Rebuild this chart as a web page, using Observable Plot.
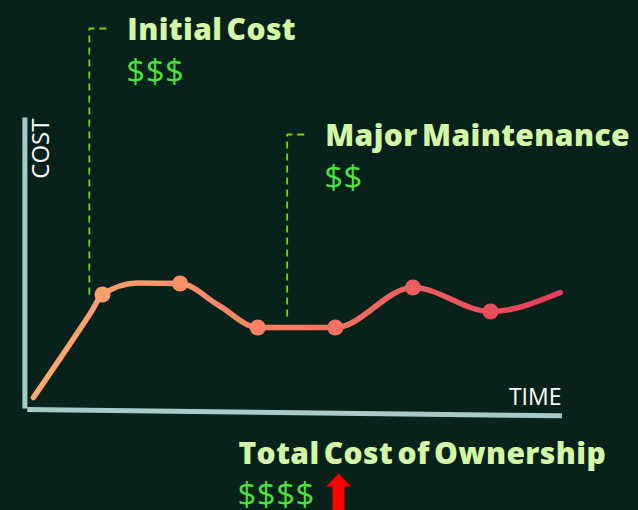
<!DOCTYPE html>
<html><head><meta charset="utf-8">
<script src="https://cdn.jsdelivr.net/npm/d3@7"></script>
<script src="https://cdn.jsdelivr.net/npm/@observablehq/plot@0.6"></script>
<style>
html,body{margin:0;padding:0;background:#08211a;}
#chart svg{display:block;background:#08211a;}
</style></head><body><div id="chart"></div>
<script>
// ---- data ----
const curveTime = [0.11, 0.85, 1, 1.45, 2, 2.5, 3, 4, 5, 6, 6.9];
const curveCost = [1.1, 9.6, 11.4, 12.55, 12.5, 10.3, 8.1, 8.1, 12.1, 9.7, 11.6];
const milestoneTime = [1, 2, 3, 4, 5, 6];
const milestoneCost = [11.4, 12.5, 8.1, 8.1, 12.1, 9.7];
const eventLabels = ["Initial Cost", "Major Maintenance"];
const eventAmounts = ["$$$", "$$"];
const eventTime = [0.83, 3.38];
const eventTop = [38, 27.4];
const eventBase = [11.1, 9.1];
const totalLabel = "Total Cost of Ownership";
const totalAmount = "$$$$";
const xAxisLabel = "TIME";
const yAxisLabel = "COST";
const axisTimeEnd = 6.92;
const axisCostEnd = 29.1;

// ---- derived tables ----
const curve = curveTime.map((t, i) => ({t, c: curveCost[i]}));
const milestones = milestoneTime.map((t, i) => ({t, c: milestoneCost[i]}));
const events = eventLabels.map((label, i) => ({label, amount: eventAmounts[i], t: eventTime[i], top: eventTop[i], base: eventBase[i]}));
const eventPaths = events.flatMap((e, i) => [
  {id: i, t: e.t + 0.22, c: e.top},
  {id: i, t: e.t, c: e.top},
  {id: i, t: e.t, c: e.base}
]);
const yAxisLine = [{t: 0, c: 0}, {t: 0, c: axisCostEnd}];
const xAxisLine = [{t: 0.03, c: -0.1}, {t: axisTimeEnd, c: -0.73}];

const gradStops = ["#fbac70", "#f37b62", "#e63a5a"];
const axisColor = "#a7cbc9";
const dashColor = "#76d21d";
const titleColor = "#d4f7a6";
const amountColor = "#4de23c";

const gradientDefs = (index, scales) => {
  const ns = "http://www.w3.org/2000/svg";
  const defs = document.createElementNS(ns, "defs");
  const g = document.createElementNS(ns, "linearGradient");
  g.setAttribute("id", "costGradient");
  g.setAttribute("gradientUnits", "userSpaceOnUse");
  g.setAttribute("x1", scales.x(0));
  g.setAttribute("x2", scales.x(7));
  g.setAttribute("y1", 0);
  g.setAttribute("y2", 0);
  gradStops.forEach((col, i) => {
    const s = document.createElementNS(ns, "stop");
    s.setAttribute("offset", i / (gradStops.length - 1));
    s.setAttribute("stop-color", col);
    g.appendChild(s);
  });
  defs.appendChild(g);
  return defs;
};

const arrowSymbol = {
  draw(ctx) {
    ctx.moveTo(0, -19);
    ctx.lineTo(12.5, -6);
    ctx.lineTo(6, -6);
    ctx.lineTo(6, 20);
    ctx.lineTo(-6, 20);
    ctx.lineTo(-6, -6);
    ctx.lineTo(-12.5, -6);
    ctx.closePath();
  }
};

const titleFont = "'Open Sans', sans-serif";

const chart = Plot.plot({
  width: 638,
  height: 510,
  margin: 0,
  style: {background: "#08211a", overflow: "visible"},
  x: {domain: [0, 7], range: [24.4, 567.6], axis: null},
  y: {domain: [0, 40], range: [408, 8], axis: null},
  color: {type: "linear", domain: [0, 3.5, 7], range: gradStops, interpolate: "rgb"},
  marks: [
    gradientDefs,
    Plot.line(yAxisLine, {x: "t", y: "c", stroke: axisColor, strokeWidth: 5, strokeLinecap: "butt"}),
    Plot.line(xAxisLine, {x: "t", y: "c", stroke: axisColor, strokeWidth: 5, strokeLinecap: "butt"}),
    Plot.line(eventPaths, {x: "t", y: "c", z: "id", stroke: dashColor, strokeWidth: 1.8, strokeDasharray: "7,5", strokeLinecap: "butt", strokeLinejoin: "miter"}),
    Plot.line(curve, {x: "t", y: "c", curve: "monotone-x", stroke: "url(#costGradient)", strokeWidth: 5.5}),
    Plot.dot(milestones, {x: "t", y: "c", r: 8, fill: "t"}),
    Plot.text(events, {ariaLabel: "event-title", x: "t", y: "top", text: "label", dx: 38, dy: 11, textAnchor: "start", lineAnchor: "bottom", fill: titleColor, fontSize: 30, fontWeight: 800, fontFamily: titleFont}),
    Plot.text(events, {ariaLabel: "event-amount", x: "t", y: "top", text: "amount", dx: 37, dy: 54, textAnchor: "start", lineAnchor: "bottom", fill: amountColor, fontSize: 33, fontWeight: 400, fontFamily: titleFont}),
    Plot.text([yAxisLabel], {ariaLabel: "y-label", frameAnchor: "top-left", dx: 48.5, dy: 118, text: d => d, rotate: -90, textAnchor: "end", lineAnchor: "bottom", fill: "#ffffff", fontSize: 24, fontFamily: titleFont}),
    Plot.text([xAxisLabel], {ariaLabel: "x-label", frameAnchor: "top-left", dx: 561, dy: 404, text: d => d, textAnchor: "end", lineAnchor: "bottom", fill: "#ffffff", fontSize: 23, fontFamily: titleFont}),
    Plot.text([totalLabel], {ariaLabel: "total-title", frameAnchor: "top-left", dx: 238, dy: 463, text: d => d, textAnchor: "start", lineAnchor: "bottom", fill: titleColor, fontSize: 30, fontWeight: 800, fontFamily: titleFont}),
    Plot.text([totalAmount], {ariaLabel: "total-amount", frameAnchor: "top-left", dx: 237, dy: 505, text: d => d, textAnchor: "start", lineAnchor: "bottom", fill: amountColor, fontSize: 33, fontWeight: 400, fontFamily: titleFont}),
    Plot.dot([totalAmount], {ariaLabel: "total-arrow", frameAnchor: "top-left", dx: 338, dy: 492, r: 10, symbol: arrowSymbol, fill: "#ff0000"})
  ]
});
// fine typographic tuning of the headline texts
const titleTexts = new Set([...eventLabels, totalLabel]);
const amountTexts = new Set([...eventAmounts, totalAmount]);
chart.querySelectorAll("text").forEach(el => {
  const s = el.textContent;
  if (titleTexts.has(s)) { el.style.letterSpacing = "0.4px"; el.style.wordSpacing = "-4px"; }
  else if (amountTexts.has(s)) { el.style.letterSpacing = "0.5px"; }
});
document.getElementById("chart").appendChild(chart);
</script></body></html>
